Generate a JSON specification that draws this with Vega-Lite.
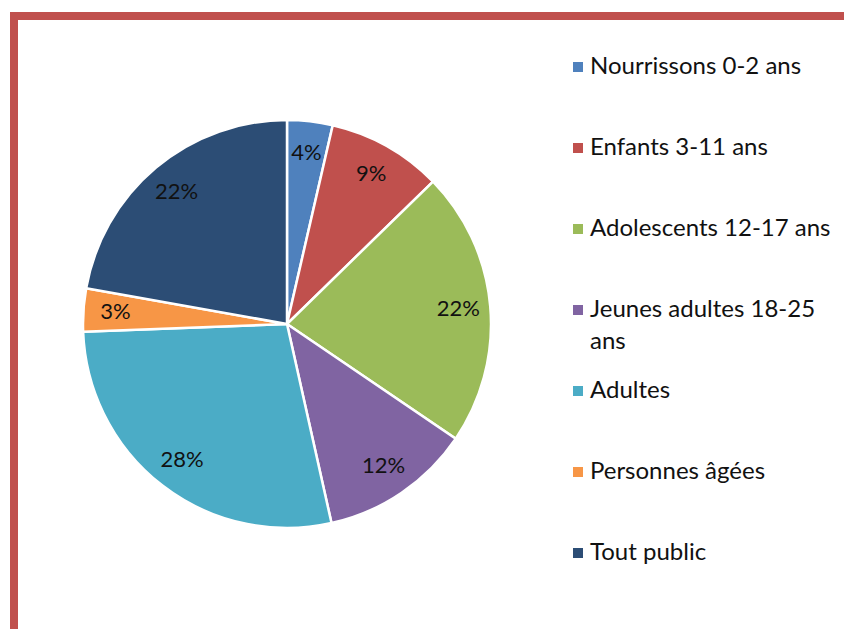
{
  "$schema": "https://vega.github.io/schema/vega-lite/v6.json",
  "autosize": {"type": "none"},
  "padding": {"left": 14, "top": 16, "right": -20, "bottom": -20},
  "width": 850,
  "height": 633,
  "background": "#ffffff",
  "view": {"stroke": "#C0504D", "strokeWidth": 8, "fill": "#ffffff"},
  "config": {
    "view": {"stroke": "#C0504D", "strokeWidth": 8},
    "font": "Lato",
    "style": {"guide-label": {"lineHeight": 32}}
  },
  "data": {
    "values": [
      {"i": 1, "cat": "Nourrissons 0-2 ans", "v": 3.6, "label": "4%"},
      {"i": 2, "cat": "Enfants 3-11 ans", "v": 9.1, "label": "9%"},
      {"i": 3, "cat": "Adolescents 12-17 ans", "v": 21.8, "label": "22%"},
      {"i": 4, "cat": "Jeunes adultes 18-25 ans", "v": 12.0, "label": "12%"},
      {"i": 5, "cat": "Adultes", "v": 27.9, "label": "28%"},
      {"i": 6, "cat": "Personnes âgées", "v": 3.4, "label": "3%"},
      {"i": 7, "cat": "Tout public", "v": 22.2, "label": "22%"}
    ]
  },
  "encoding": {
    "theta": {"field": "v", "type": "quantitative", "stack": true},
    "order": {"field": "i", "type": "quantitative"}
  },
  "layer": [
    {
      "mark": {"type": "arc", "x": 273, "y": 308, "outerRadius": 204, "stroke": "#ffffff", "strokeWidth": 2.5},
      "encoding": {
        "color": {
          "field": "cat",
          "type": "nominal",
          "sort": null,
          "scale": {
            "domain": ["Nourrissons 0-2 ans", "Enfants 3-11 ans", "Adolescents 12-17 ans", "Jeunes adultes 18-25 ans", "Adultes", "Personnes âgées", "Tout public"],
            "range": ["#4F81BD", "#C0504D", "#9BBB59", "#8064A2", "#4BACC6", "#F79646", "#2C4D75"]
          },
          "legend": {
            "title": null,
            "orient": "none",
            "legendX": 552,
            "legendY": 39,
            "padding": 0,
            "symbolType": "square",
            "symbolSize": 100,
            "symbolStrokeWidth": 0,
            "labelFont": "Lato",
            "labelFontSize": 24,
            "labelColor": "#111111",
            "labelLimit": 400,
            "labelOffset": 0,
            "labelBaseline": "middle",
            "rowPadding": 25,
            "labelExpr": "datum.label == 'Jeunes adultes 18-25 ans' ? ['Jeunes adultes 18-25', 'ans'] : [datum.label, '']"
          }
        }
      }
    },
    {
      "mark": {"type": "text", "x": 273, "y": 308, "radius": 172, "fontSize": 22, "font": "Lato", "fill": "#111111"},
      "encoding": {
        "detail": {"field": "cat", "type": "nominal"},
        "text": {"field": "label", "type": "nominal"}
      }
    }
  ]
}
